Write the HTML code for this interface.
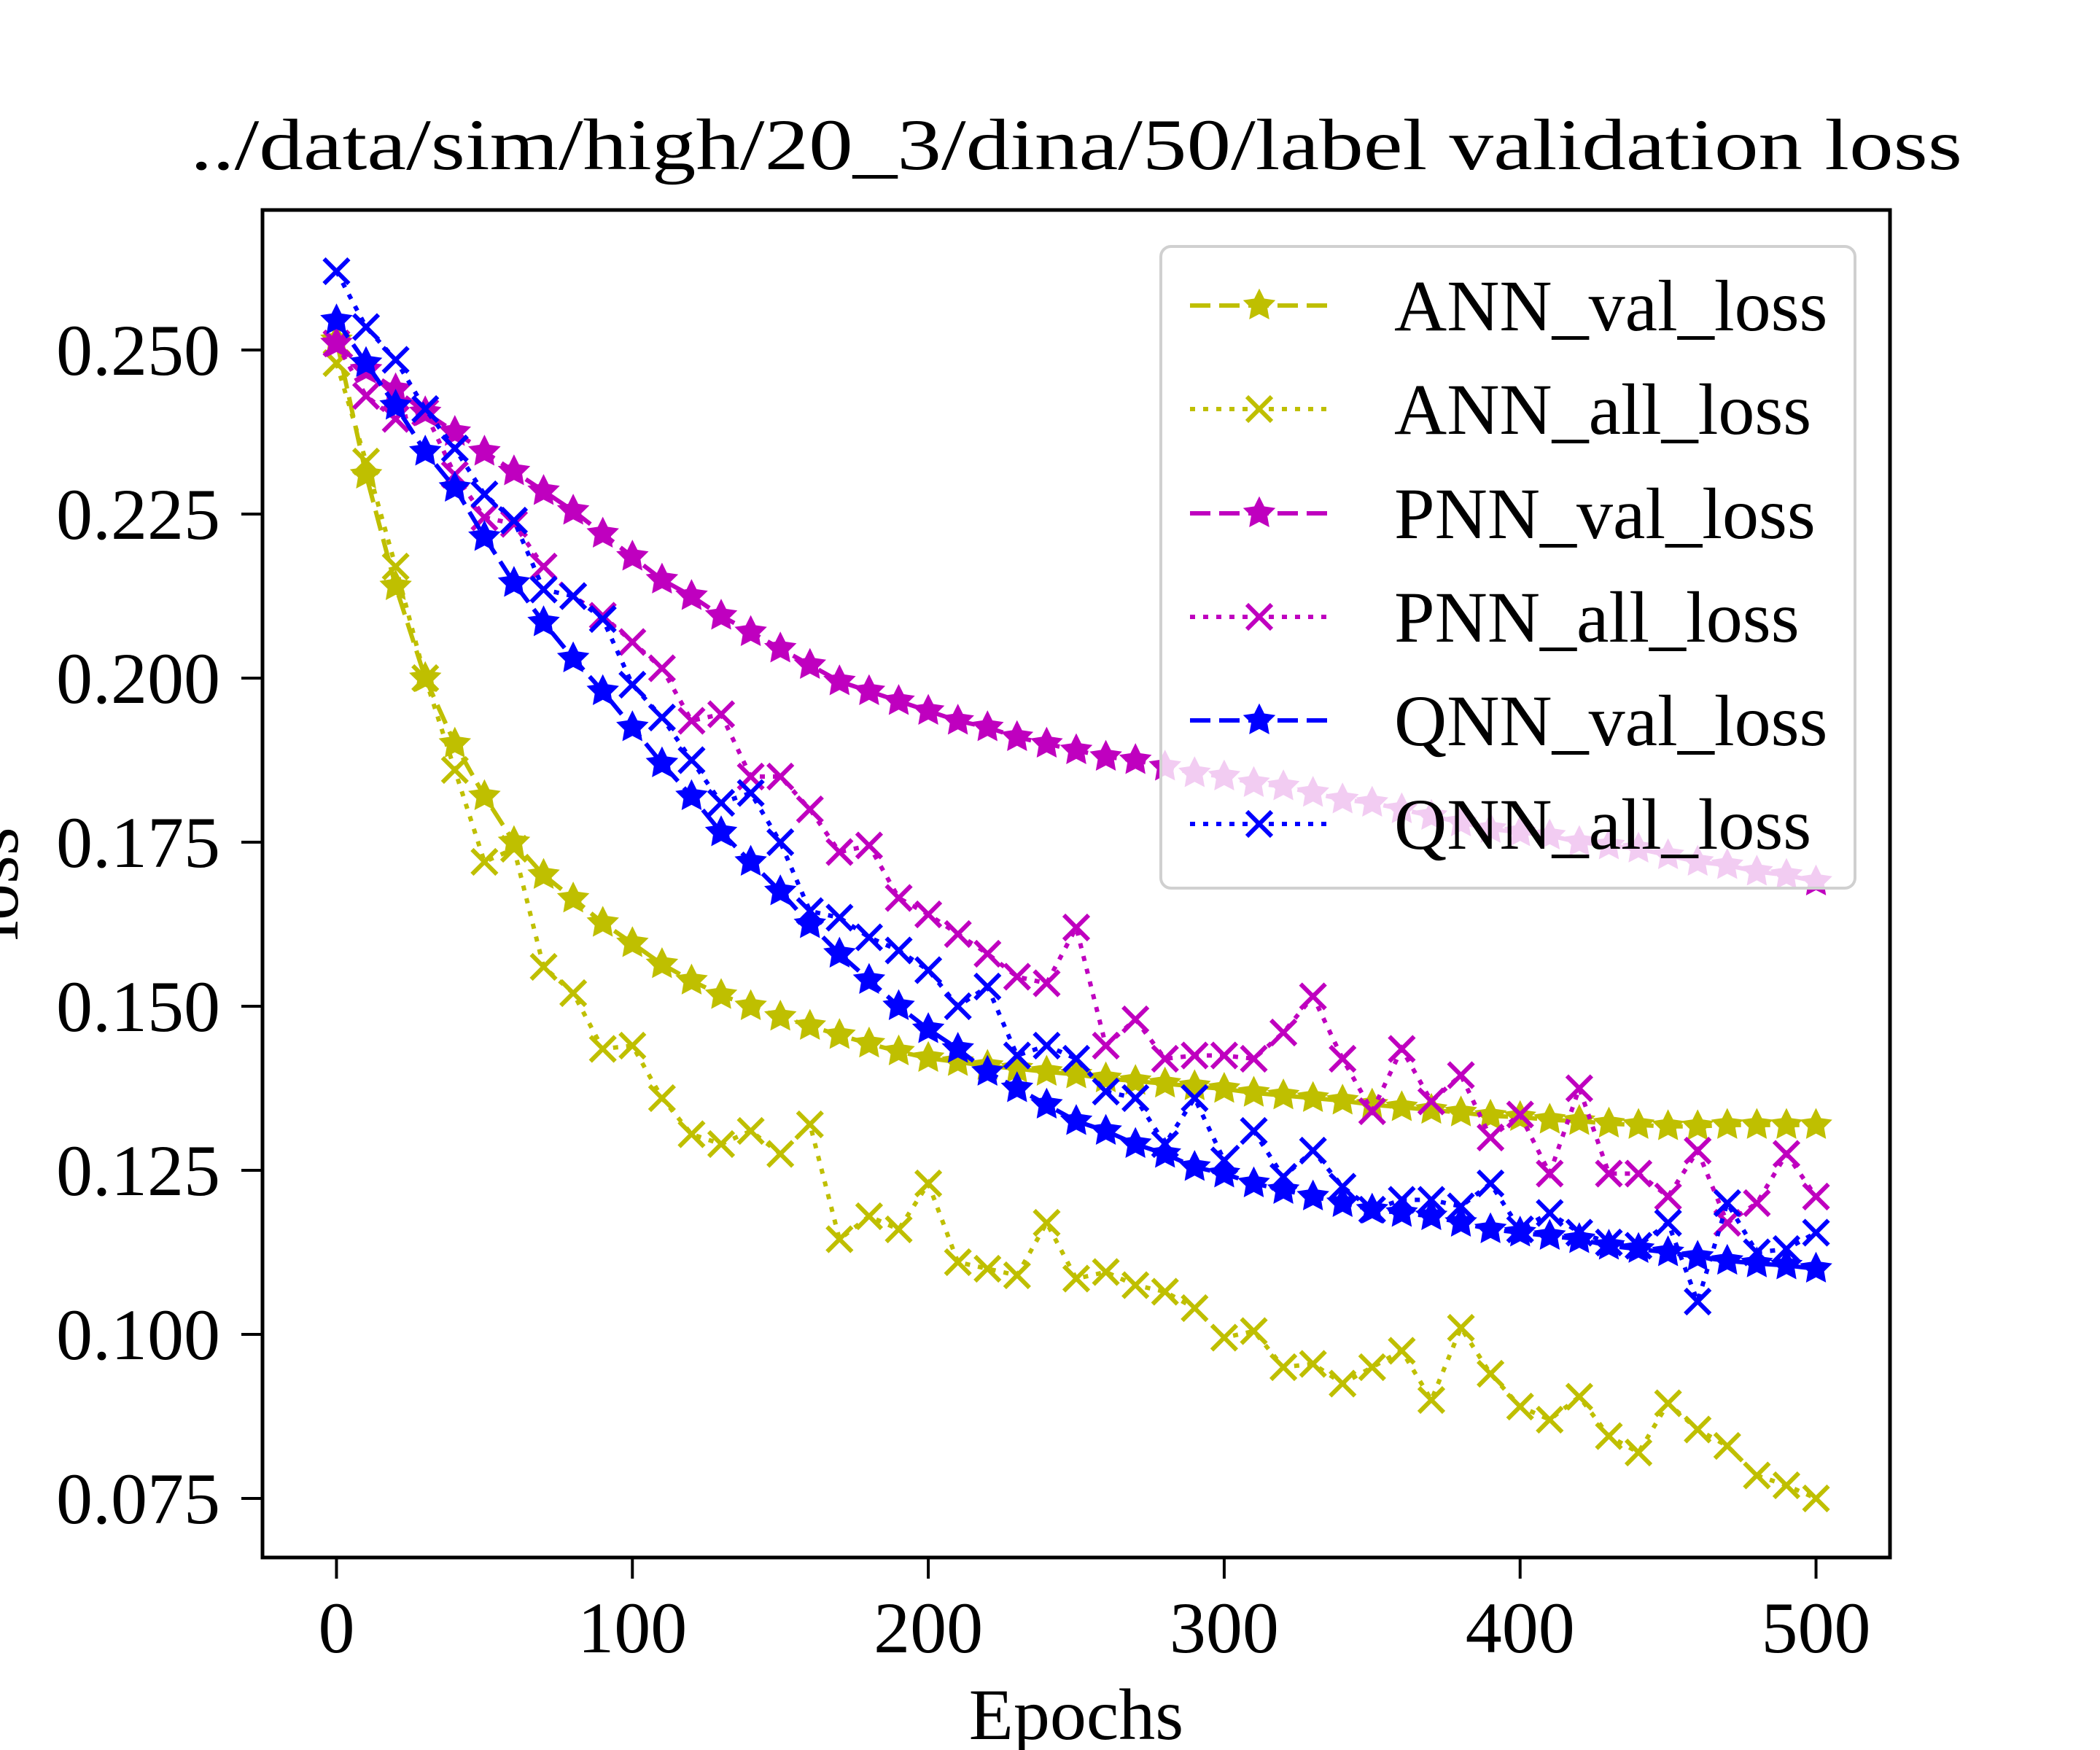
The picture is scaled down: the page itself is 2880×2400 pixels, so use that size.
<!DOCTYPE html>
<html><head><meta charset="utf-8">
<style>
html,body{margin:0;padding:0;background:#fff;}
svg{display:block;font-family:"Liberation Serif","DejaVu Serif",serif;}
</style></head>
<body>
<svg id="chart" width="2880" height="2400" viewBox="0 0 2880 2400" xmlns="http://www.w3.org/2000/svg">
<rect width="2880" height="2400" fill="#fff"/>
<text x="1476" y="232" font-size="100" text-anchor="middle" textLength="2430" lengthAdjust="spacingAndGlyphs">../data/sim/high/20_3/dina/50/label validation loss</text>
<g id="plot"></g>
<g id="axes"></g>
<g id="legend"></g>
</svg>
<script>
const epochs = [];
for (let e = 0; e <= 500; e += 10) epochs.push(e);
const annVal = [.2515,.231,.214,.200,.190,.182,.175,.170,.1664,.1627,.1596,.1564,.1539,.1517,.150,.1484,.147,.1456,.1443,.1431,.1421,.1415,.1409,.1405,.140,.1396,.139,.1386,.1382,.1378,.1374,.1368,.1364,.136,.1356,.135,.1346,.1342,.1338,.1333,.1331,.1327,.1325,.1321,.1319,.1317,.1317,.1319,.1319,.1319,.1319];
const annAll = [.248,.233,.217,.200,.186,.172,.174,.156,.152,.1435,.144,.136,.1305,.129,.131,.1275,.132,.1145,.118,.116,.123,.111,.110,.109,.117,.1085,.1095,.1075,.1065,.104,.0995,.1005,.095,.0955,.0925,.095,.0975,.090,.101,.094,.089,.087,.0905,.0845,.082,.0895,.0855,.083,.0785,.077,.075];
const pnnVal = [.251,.247,.244,.2405,.2375,.2345,.2315,.2285,.2255,.222,.2185,.215,.2125,.2095,.207,.2045,.202,.1995,.198,.1965,.195,.1935,.1925,.191,.190,.189,.188,.1875,.1865,.1855,.185,.184,.1835,.1825,.1815,.181,.180,.179,.178,.177,.1765,.176,.175,.1745,.174,.173,.172,.1715,.1705,.170,.169];
const pnnAll = [.251,.243,.2395,.2405,.231,.2245,.2235,.217,.2125,.2095,.2055,.2015,.1935,.1945,.185,.185,.180,.1735,.1745,.1665,.164,.161,.158,.1545,.1535,.162,.144,.148,.142,.1425,.1425,.142,.146,.1515,.142,.134,.1435,.1355,.1395,.130,.1335,.1245,.1375,.1245,.1245,.121,.128,.117,.120,.1275,.121];
const qnnVal = [.2545,.248,.2415,.2345,.229,.2215,.2145,.2085,.203,.198,.1925,.187,.182,.1765,.172,.1675,.1625,.158,.154,.150,.1465,.1435,.140,.1375,.135,.1325,.131,.129,.1275,.1255,.1245,.123,.122,.121,.120,.119,.1185,.118,.117,.116,.1155,.115,.1145,.1135,.113,.1125,.1118,.1112,.1108,.1105,.110];
const qnnAll = [.262,.2535,.2485,.241,.235,.228,.224,.2135,.2125,.209,.199,.194,.1875,.181,.1825,.175,.1645,.1635,.1605,.1585,.1555,.150,.153,.1425,.144,.142,.137,.136,.129,.136,.1265,.131,.124,.128,.1225,.119,.1205,.1205,.1195,.123,.116,.1185,.1155,.114,.1135,.117,.105,.120,.1125,.113,.1155];
const seriesNames = ["ANN_val_loss","ANN_all_loss","PNN_val_loss","PNN_all_loss","QNN_val_loss","QNN_all_loss"];
const xTicks = [0,100,200,300,400,500];
const yTicks = [0.075,0.100,0.125,0.150,0.175,0.200,0.225,0.250];
const yTickLabels = ["0.075","0.100","0.125","0.150","0.175","0.200","0.225","0.250"];

const NS = "http://www.w3.org/2000/svg";
const L = 360, R = 2592, T = 288, B = 2136;
const xMin = -25, xMax = 525;
const yTop = 0.25 + (480 - T) / 9000, yBot = 0.25 - (B - 480) / 9000;
function xs(v){ return L + (v - xMin) / (xMax - xMin) * (R - L); }
function ys(v){ return T + (yTop - v) / (yTop - yBot) * (B - T); }
function mk(tag, attrs, parent){ const el = document.createElementNS(NS, tag); for (const k in attrs) el.setAttribute(k, attrs[k]); parent.appendChild(el); return el; }

const plot = document.getElementById('plot');
const axes = document.getElementById('axes');
const legend = document.getElementById('legend');
const defs = mk('defs', {}, document.getElementById('chart'));
const cp = mk('clipPath', {id:'clip'}, defs);
mk('rect', {x:L, y:T, width:R-L, height:B-T}, cp);
plot.setAttribute('clip-path', 'url(#clip)');

const styles = [
  {data: annVal, color:'#bfbf00', dash:'28 12', marker:'star'},
  {data: annAll, color:'#bfbf00', dash:'7 11', marker:'x'},
  {data: pnnVal, color:'#bf00bf', dash:'28 12', marker:'star'},
  {data: pnnAll, color:'#bf00bf', dash:'7 11', marker:'x'},
  {data: qnnVal, color:'#0000ff', dash:'28 12', marker:'star'},
  {data: qnnAll, color:'#0000ff', dash:'7 11', marker:'x'}
];
function starPts(cx, cy, r){
  const p = [];
  for (let i = 0; i < 10; i++){
    const a = -Math.PI/2 + i*Math.PI/5;
    const rr = i % 2 ? r*0.5 : r;
    p.push((cx + rr*Math.cos(a)).toFixed(1) + ',' + (cy + rr*Math.sin(a)).toFixed(1));
  }
  return p.join(' ');
}
function drawMarker(parent, type, cx, cy, color, name){
  if (type === 'star'){
    const m = mk('polygon', {points: starPts(cx, cy, 20), fill: color, stroke: color, 'stroke-width': 3}, parent);
    
    
  } else {
    const g = mk('path', {d:`M${cx-17},${cy-17}L${cx+17},${cy+17}M${cx-17},${cy+17}L${cx+17},${cy-17}`, stroke: color, 'stroke-width': 6, fill:'none'}, parent);
    
    
  }
}
styles.forEach((s, si) => {
  const g = mk('g', {}, plot);
  
  
  const d = s.data.map((v, i) => (i ? 'L' : 'M') + xs(epochs[i]).toFixed(1) + ',' + ys(v).toFixed(1)).join('');
  const line = mk('path', {d: d, fill:'none', stroke: s.color, 'stroke-width': 6, 'stroke-dasharray': s.dash}, g);
  
  
  s.data.forEach((v, i) => drawMarker(g, s.marker, xs(epochs[i]), ys(v), s.color, 'point'));
});

const frame = mk('rect', {x:L, y:T, width:R-L, height:B-T, fill:'none', stroke:'#000', 'stroke-width': 5}, axes);


xTicks.forEach(t => {
  const x = xs(t);
  const tk = mk('line', {x1:x, x2:x, y1:B, y2:B+29, stroke:'#000', 'stroke-width':4}, axes);
  
  
  const lb = mk('text', {x:x, y:B+130, 'font-size':100, 'text-anchor':'middle'}, axes);
  lb.textContent = String(t);
  
  
});
yTicks.forEach((t, i) => {
  const y = ys(t);
  const tk = mk('line', {x1:L-29, x2:L, y1:y, y2:y, stroke:'#000', 'stroke-width':4}, axes);
  
  
  const lb = mk('text', {x:L-58, y:y+34, 'font-size':100, 'text-anchor':'end'}, axes);
  lb.textContent = yTickLabels[i];
  
  
});
const xt = mk('text', {x:(L+R)/2, y:2385, 'font-size':100, 'text-anchor':'middle'}, axes);
xt.textContent = 'Epochs';


const yt = mk('text', {x:0, y:0, 'font-size':100, 'text-anchor':'middle', transform:`translate(24,${(T+B)/2}) rotate(-90)`}, axes);
yt.textContent = 'loss';



const lbx = mk('rect', {x:1592, y:338, width:952, height:880, rx:14, fill:'#fff', 'fill-opacity':0.8, stroke:'#d0d0d0', 'stroke-width':4}, legend);


const rowY = [419, 561, 704, 846, 988, 1130];
styles.forEach((s, i) => {
  const g = mk('g', {}, legend);
  
  
  const y = rowY[i];
  mk('line', {x1:1632, x2:1822, y1:y, y2:y, stroke:s.color, 'stroke-width':6, 'stroke-dasharray':s.dash}, g);
  drawMarker(g, s.marker, 1727, y, s.color, 'legend-marker');
  const t = mk('text', {x:1912, y:y+34, 'font-size':100}, g);
  t.textContent = seriesNames[i];
  
  
});
</script>
</body></html>
